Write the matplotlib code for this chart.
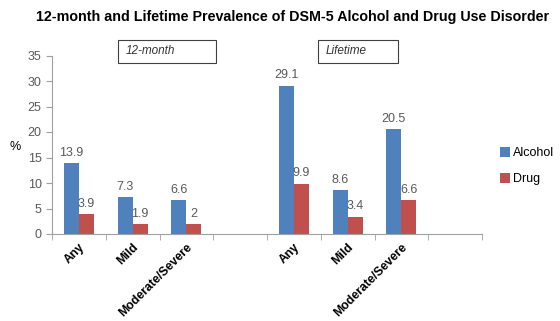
import matplotlib.pyplot as plt
from matplotlib.patches import Rectangle

plt.rcParams['font.family'] = ['Liberation Sans', 'DejaVu Sans']

categories = ["Any", "Mild", "Moderate/Severe"]
periods = ["12-month", "Lifetime"]
alcohol_12m = [13.9, 7.3, 6.6]
drug_12m = [3.9, 1.9, 2]
alcohol_life = [29.1, 8.6, 20.5]
drug_life = [9.9, 3.4, 6.6]

BLUE = "#4F81BD"
RED = "#C0504D"
GRAY = "#595959"

fig = plt.figure(figsize=(5.6, 3.21), dpi=100)
ax = fig.add_axes([52 / 560, 1 - 234 / 321, 430 / 560, (234 - 55.5) / 321])

# 8 slots: 3 categories, blank, 3 categories, blank
alcohol = alcohol_12m + [None] + alcohol_life + [None]
drug = drug_12m + [None] + drug_life + [None]
labels = categories + [""] + categories + [""]
w = 0.28
for i, (a, d) in enumerate(zip(alcohol, drug)):
    if a is None:
        continue
    ba = ax.bar(i - w / 2, a, w, color=BLUE, label="Alcohol" if i == 0 else None)
    bd = ax.bar(i + w / 2, d, w, color=RED, label="Drug" if i == 0 else None)
    ax.bar_label(ba, labels=[f"{a:g}"], padding=3, fontsize=9, color=GRAY)
    ax.bar_label(bd, labels=[f"{d:g}"], padding=3, fontsize=9, color=GRAY)

ax.set_xlim(-0.5, 7.5)
ax.set_ylim(0, 35)
ax.set_yticks(range(0, 36, 5))
ax.set_xticks(range(8))
ax.set_xticklabels(labels, rotation=45, ha="right", rotation_mode="anchor",
                   fontsize=8.8, fontweight="bold")
ax.set_xticks([x - 0.5 for x in range(9)], minor=True)
ax.tick_params(axis="x", which="major", length=0, pad=5)
ax.tick_params(axis="x", which="minor", length=4, color="#A0A0A0", direction="out")
ax.tick_params(axis="y", labelsize=9, labelcolor=GRAY, length=4, color="#A0A0A0")
for s in ["top", "right"]:
    ax.spines[s].set_visible(False)
for s in ["left", "bottom"]:
    ax.spines[s].set_color("#A0A0A0")
ax.set_ylabel("%", rotation=0, fontsize=9, color="black", va="center")
ax.yaxis.set_label_coords(-0.085, 0.49)

ax.legend(loc="center left", bbox_to_anchor=(1.015, 0.38), frameon=False,
          fontsize=9, handlelength=0.8, handleheight=0.8, handletextpad=0.3,
          labelspacing=1.1)

fig.suptitle("12-month and Lifetime Prevalence of DSM-5 Alcohol and Drug Use Disorder",
             x=293 / 560, y=1 - 17 / 321, va="center", fontsize=10.3, fontweight="bold")

# period boxes
for name, x0, x1 in [(periods[0], 118, 216), (periods[1], 318, 398)]:
    fig.patches.append(Rectangle((x0 / 560, 1 - 63 / 321), (x1 - x0) / 560, 23 / 321,
                                 transform=fig.transFigure, fill=False,
                                 edgecolor="#404040", linewidth=0.8))
    fig.text((x0 + 8) / 560, 1 - 51.5 / 321, name, fontsize=8.5, style="italic",
             va="center", color="#333333")

fig.savefig("out.png", dpi=100)
